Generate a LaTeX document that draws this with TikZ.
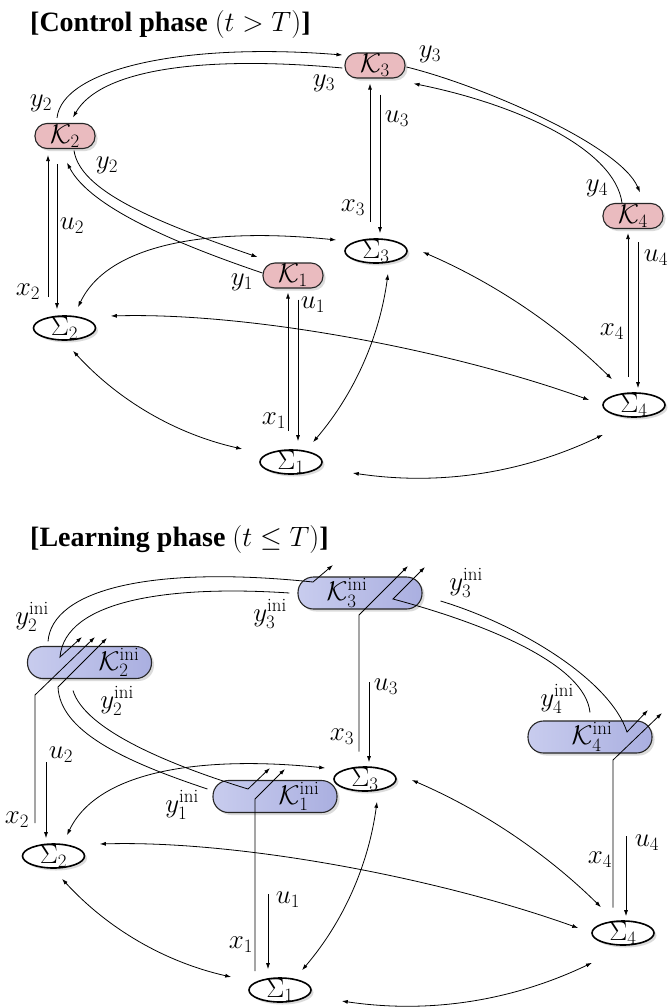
\documentclass[tikz,border=0pt]{standalone}
\usepackage{fix-cm}
\usepackage{fontspec}
\newfontfamily\titlefont{Liberation Serif}
\usetikzlibrary{shapes.geometric,arrows.meta,calc,shadows}
\definecolor{pinkK}{RGB}{234,187,191}
\definecolor{iniL}{RGB}{200,204,238}
\definecolor{iniR}{RGB}{170,175,224}
\tikzset{
  shad/.style={drop shadow={shadow xshift=2.5pt,shadow yshift=-2.5pt,opacity=0.28}},
  kbox/.style={shad,draw=black!85,line width=1.1pt,rounded corners=12pt,minimum width=60pt,minimum height=25pt,inner sep=0pt,fill=pinkK},
  kini/.style={shad,draw=black!85,line width=1.1pt,rounded corners=15.5pt,minimum width=124pt,minimum height=32pt,inner sep=0pt,left color=iniL,right color=iniR},
  sig/.style={shad,ellipse,draw,line width=1.6pt,fill=white,minimum width=62pt,minimum height=24pt,inner xsep=0pt,inner ysep=-4pt},
  arr/.style={-{Latex[length=6pt,width=4pt]},line width=0.8pt},
  darr/.style={{Latex[length=6pt,width=4pt]}-{Latex[length=6pt,width=4pt]},line width=0.8pt},
  lab/.style={inner sep=0pt},
  ttl/.style={anchor=base west,inner sep=0pt,font=\titlefont\bfseries\fontsize{28}{32}\selectfont},
}
\newcommand{\sysnet}[3]{%
  \node[sig] (#1s1) at ({291+(#2)},{462+(#3)}) {$\Sigma_1$};
  \node[sig] (#1s2) at ({64.5+(#2)},{328+(#3)}) {$\Sigma_2$};
  \node[sig] (#1s3) at ({376+(#2)},{251+(#3)}) {$\Sigma_3$};
  \node[sig] (#1s4) at ({634+(#2)},{405+(#3)}) {$\Sigma_4$};
  \draw[darr] ($(#1s3.west)+(-8,-11)$) .. controls ({220+(#2)},{228+(#3)}) and ({110+(#2)},{240+(#3)}) .. ($(#1s2.north)+(13.5,-8)$);
  \draw[darr] ($(#1s2.east)+(14.5,-12)$) .. controls ({250+(#2)},{312+(#3)}) and ({450+(#2)},{350+(#3)}) .. ($(#1s4.west)+(-13,-5)$);
  \draw[darr] ($(#1s3.east)+(15,1)$) .. controls ({493.5+(#2)},{282.5+(#3)}) and ({557+(#2)},{325+(#3)}) .. ($(#1s4.north)+(-22,-13)$);
  \draw[darr] ($(#1s3.south)+(12,10)$) .. controls ({379.5+(#2)},{337+(#3)}) and ({354.5+(#2)},{393.6+(#3)}) .. ($(#1s1.north)+(22,-7)$);
  \draw[darr] ($(#1s2.south)+(8.5,10)$) .. controls ({119+(#2)},{401+(#3)}) and ({176+(#2)},{434+(#3)}) .. ($(#1s1.west)+(-17,-13)$);
  \draw[darr] ($(#1s1.east)+(30,11)$) .. controls ({440+(#2)},{486+(#3)}) and ({523+(#2)},{473+(#3)}) .. ($(#1s4.south)+(-31,17)$);
}
\begin{document}
\begin{tikzpicture}[x=1pt,y=-1pt,font=\fontsize{27}{32}\selectfont]
\path[fill=white] (0,0) rectangle (669,1007);
\useasboundingbox (0,0) rectangle (669,1007);

% ================= Control phase =================
\node[ttl] (title1) at (30,31) {[Control phase $(t>T)$]};
\node[kbox] (k1) at (293,275.5) {$\mathcal{K}_1$};
\node[kbox] (k2) at (65,136) {$\mathcal{K}_2$};
\node[kbox] (k3) at (375,65.5) {$\mathcal{K}_3$};
\node[kbox] (k4) at (633,216) {$\mathcal{K}_4$};
\sysnet{a}{0}{0}

% K-K links
\draw[arr] ($(k2.north)+(-8,-5)$) .. controls (62,70) and (180,42) .. ($(k3.west)+(-2,-10.5)$);
\draw[arr] ($(k3.west)+(-2,2.5)$) .. controls (200,55) and (100,70) .. ($(k2.north)+(8,-5.5)$);
\draw[arr] ($(k2.south)+(9,1.5)$) .. controls (80,190) and (150,220) .. ($(k1.west)+(-5,-18.5)$);
\draw[arr] ($(k1.west)+(0,-2.5)$) .. controls (180,245) and (90,208) .. ($(k2.south)+(2,13.5)$);
\draw[arr] ($(k3.east)+(1,1.5)$) .. controls (480,85) and (620,145) .. ($(k4.north)+(7,-10.5)$);
\draw[arr] ($(k4.north)+(-11,0)$) .. controls (615,150) and (520,105) .. ($(k3.south east)+(8,5)$);

% K-Sigma links
\draw[arr] ($(as3.north -| k3.south)+(-5,-16)$) -- ($(k3.south)+(-5,5)$);
\draw[arr] ($(k3.south)+(5,16)$) -- ($(as3.north -| k3.south)+(5,-5)$);
\draw[arr] ($(as2.north -| k2.south)+(-17,-18)$) -- ($(k2.south)+(-17,6)$);
\draw[arr] ($(k2.south)+(-8,15)$) -- ($(as2.north -| k2.south)+(-8,-6)$);
\draw[arr] ($(as1.north -| k1.south)+(-5,-18)$) -- ($(k1.south)+(-5,4)$);
\draw[arr] ($(k1.south)+(5,11)$) -- ($(as1.north -| k1.south)+(5,-8)$);
\draw[arr] ($(as4.north -| k4.south)+(-5,-15)$) -- ($(k4.south)+(-5,4)$);
\draw[arr] ($(k4.south)+(5,13)$) -- ($(as4.north -| k4.south)+(5,-4)$);

% labels
\node[lab] (ly2a) at (41,103) {$y_2$};
\node[lab] (ly3a) at (324,83) {$y_3$};
\node[lab] (ly3b) at (430,54) {$y_3$};
\node[lab] (ly2b) at (107,165) {$y_2$};
\node[lab] (ly1) at (242,282) {$y_1$};
\node[lab] (ly4) at (597,188) {$y_4$};
\node[lab] (lu3) at (397,119) {$u_3$};
\node[lab] (lx3) at (353,208) {$x_3$};
\node[lab] (lu2) at (72,226) {$u_2$};
\node[lab] (lx2) at (28,292) {$x_2$};
\node[lab] (lu1) at (313,305) {$u_1$};
\node[lab] (lx1) at (274,421) {$x_1$};
\node[lab] (lu4) at (656,258) {$u_4$};
\node[lab] (lx4) at (612,332) {$x_4$};

% ================= Learning phase =================
\node[ttl] (title2) at (30,546) {[Learning phase $(t\leq T)$]};
\node[kini] (c1) at (275,796.5) {\hspace*{48pt}$\mathcal{K}_1^{\mathrm{ini}}$};
\node[kini] (c2) at (89.5,662.5) {\hspace*{59pt}$\mathcal{K}_2^{\mathrm{ini}}$};
\node[kini] (c3) at (360,593) {$\mathcal{K}_3^{\mathrm{ini}}$\hspace*{26pt}};
\node[kini] (c4) at (590,737) {\hspace*{4pt}$\mathcal{K}_4^{\mathrm{ini}}$};
\sysnet{b}{-11}{528}

\coordinate (v3a) at (313,582); \coordinate (t3a) at (333,565);
\coordinate (v3b) at (393,599); \coordinate (t3b) at (425,567);
\coordinate (v3x) at (359,615); \coordinate (t3x) at (408,566);
\coordinate (v2a) at (60,657);  \coordinate (t2a) at (82,637);
\coordinate (v2b) at (58,687);  \coordinate (t2b) at (107,638);
\coordinate (v2x) at (35,695);  \coordinate (t2x) at (95,637);
\coordinate (v1a) at (248,789); \coordinate (t1a) at (270,768);
\coordinate (v1x) at (255,799); \coordinate (t1x) at (285,769);
\coordinate (v4a) at (627,732); \coordinate (t4a) at (648,710);
\coordinate (v4x) at (613,760); \coordinate (t4x) at (662,713);

\draw[arr] ($(c2.north)+(-41.5,-4.5)$) .. controls (52,590) and (150,565) .. (v3a) -- (t3a);
\draw[arr] ($(c3.west)+(-8,0)$) .. controls (170,585) and (65,600) .. (v2a) -- (t2a);
\draw[arr] ($(c1.west)+(-5,-7.5)$) .. controls (120,760) and (60,730) .. (v2b) -- (t2b);
\draw[arr] ($(c2.south)+(-16.5,11.5)$) .. controls (85,730) and (170,765) .. (v1a) -- (t1a);
\draw[arr] ($(c3.east)+(18,8)$) .. controls (520,625) and (610,680) .. (v4a) -- (t4a);
\draw[arr] ($(c4.north)+(0,-8)$) .. controls (585,665) and (490,625) .. (v3b) -- (t3b);

\draw[arr] ($(bs2.north)+(-18.5,-20)$) -- (v2x) -- (t2x);
\draw[arr] ($(bs1.north)+(-25,-6)$) -- (v1x) -- (t1x);
\draw[arr] ($(bs3.north)+(-6,-14.5)$) -- (v3x) -- (t3x);
\draw[arr] ($(bs4.north)+(-10,-12.5)$) -- (v4x) -- (t4x);

\draw[arr] ($(bs2.north)+(-7.5,-81)$) -- ($(bs2.north)+(-7.5,-5)$);
\draw[arr] ($(bs1.north)+(-12,-83)$) -- ($(bs1.north)+(-12,-8)$);
\draw[arr] ($(bs3.north)+(4,-84)$) -- ($(bs3.north)+(4,-4)$);
\draw[arr] ($(bs4.north)+(3,-84)$) -- ($(bs4.north)+(3,-4)$);

\node[lab] (m2a) at (32,617) {$y_2^{\mathrm{ini}}$};
\node[lab] (m3a) at (270,614) {$y_3^{\mathrm{ini}}$};
\node[lab] (m2b) at (117,701) {$y_2^{\mathrm{ini}}$};
\node[lab] (m1) at (182,805) {$y_1^{\mathrm{ini}}$};
\node[lab] (m3b) at (466,583) {$y_3^{\mathrm{ini}}$};
\node[lab] (m4) at (557,699) {$y_4^{\mathrm{ini}}$};
\node[lab] (n2) at (61,755) {$u_2$};
\node[lab] (w2) at (17,820) {$x_2$};
\node[lab] (n1) at (288,900) {$u_1$};
\node[lab] (w1) at (241,945) {$x_1$};
\node[lab] (n3) at (386,687) {$u_3$};
\node[lab] (w3) at (342,737) {$x_3$};
\node[lab] (n4) at (647,843) {$u_4$};
\node[lab] (w4) at (600,860) {$x_4$};
\end{tikzpicture}
\end{document}
